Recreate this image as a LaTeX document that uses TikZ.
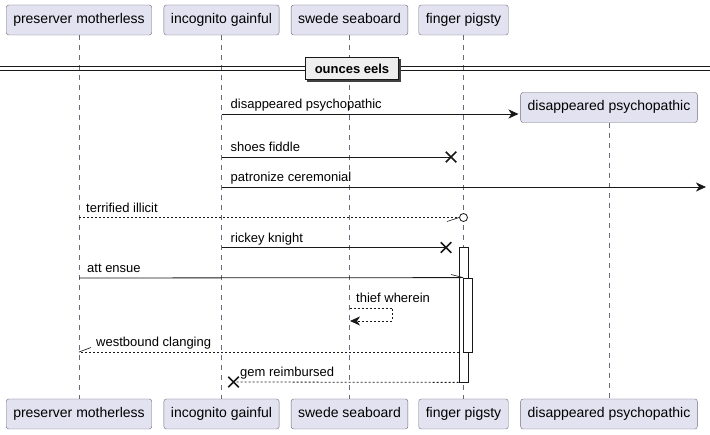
\documentclass[tikz,border=0pt]{standalone}
\usepackage{fontspec}
\setmainfont{Liberation Sans}
\usepackage{xcolor}
\usetikzlibrary{arrows.meta}
\usetikzlibrary{shapes.misc}
\definecolor{partfill}{HTML}{E2E2F0}
\definecolor{partline}{HTML}{6A6A7A}
\definecolor{divfill}{HTML}{EEEEEE}
\definecolor{ink}{HTML}{181818}

\begin{document}
\begin{tikzpicture}[x=1pt,y=-1pt,
  part/.style={draw=partline,fill=partfill,rounded corners=2.5pt,minimum height=30pt,inner xsep=7pt,
    text height=10pt,text depth=3pt,font=\fontsize{14}{16}\selectfont},
  life/.style={partline,dash pattern=on 5pt off 5pt,line width=0.5pt},
  msg/.style={ink,line width=0.8pt},
  ret/.style={msg,dash pattern=on 2pt off 2pt},
  tip/.style={-{Stealth[length=10pt,width=9pt,inset=3pt]}},
  barb/.style={ink,line width=0.6pt},
  lbl/.style={anchor=base west,inner sep=0pt,font=\fontsize{13}{15}\selectfont},
  bar/.style={draw=ink,fill=white,line width=0.8pt,minimum width=9pt,inner sep=0pt},
  kill/.style={cross out,draw=ink,line width=1.5pt,minimum size=9pt,inner sep=0pt}]
\useasboundingbox [fill=white] (0,0) rectangle (710,435);

% participants
\node [part] (pmT) at (79,20) {preserver motherless};
\node [part] (igT) at (221.5,20) {incognito gainful};
\node [part] (ssT) at (349.5,20) {swede seaboard};
\node [part] (fpT) at (463.5,20) {finger pigsty};
\node [part] (dpT) at (609,107.5) {disappeared psychopathic};
\node [part] (pmB) at (79,414) {preserver motherless};
\node [part] (igB) at (221.5,414) {incognito gainful};
\node [part] (ssB) at (349.5,414) {swede seaboard};
\node [part] (fpB) at (463.5,414) {finger pigsty};
\node [part] (dpB) at (609,414) {disappeared psychopathic};

\draw [life] (pmT) -- (pmB);
\draw [life] (igT) -- (igB);
\draw [life] (ssT) -- (ssB);
\draw [life] (fpT) -- (fpB);
\draw [life] (dpT) -- (dpB);

% divider
\coordinate (dl1) at (0,66.5);   \coordinate (dr1) at (710,66.5);
\coordinate (dl2) at (0,70.5);   \coordinate (dr2) at (710,70.5);
\draw [ink,line width=0.8pt] (dl1) -- (dr1);
\draw [ink,line width=0.8pt] (dl2) -- (dr2);
\fill [black!75] (307,59) rectangle (401,82);
\node [draw=ink,fill=divfill,line width=1.4pt,minimum width=93pt,minimum height=22pt,inner sep=0pt,
  font=\fontsize{13}{15}\selectfont\bfseries] (div) at (352,68.5) {ounces eels};

% activations
\node [bar,minimum height=135pt] (act1) at (463.5,314.5) {};
\node [bar,minimum height=74pt] (act2) at (468,315) {};

% disappeared psychopathic
\coordinate (m1a) at (221.5,114);
\coordinate (m1b) at (518.5,114);
\draw [msg,tip] (m1a) -- (m1b);
\node [lbl] at (230.5,109) {disappeared psychopathic};

% shoes fiddle
\coordinate (m2a) at (221.5,157);
\node [kill] (x2) at (451,157) {};
\draw [msg] (m2a) -- (x2.center);
\node [lbl] at (230.5,152) {shoes fiddle};

% patronize ceremonial
\coordinate (m3a) at (221.5,187);
\coordinate (m3b) at (706,187);
\draw [msg,tip] (m3a) -- (m3b);
\node [lbl] at (230.5,182) {patronize ceremonial};

% terrified illicit
\coordinate (m4a) at (79,217.5);
\node [draw=ink,fill=white,circle,line width=0.8pt,minimum size=8pt,inner sep=0pt] (o4) at (463.5,217.5) {};
\draw [ret] (m4a) -- (o4);
\coordinate (b4) at (447,221.5);
\draw [barb] (b4) -- (o4.west);
\node [lbl] at (86,213) {terrified illicit};

% rickey knight
\coordinate (m5a) at (221.5,247.5);
\node [kill] (x5) at (446,247.5) {};
\draw [msg] (m5a) -- (x5.center);
\node [lbl] at (230.5,242.5) {rickey knight};

% att ensue
\coordinate (m6a) at (79,278);
\draw [msg] (m6a) -- (act2.north west);
\coordinate (b6) at (451,274.5);
\draw [barb] (b6) -- (act2.north west);
\node [lbl] at (87,273) {att ensue};

% thief wherein
\coordinate (m7a) at (349.5,308);
\coordinate (m7b) at (392,308);
\coordinate (m7c) at (392,321);
\coordinate (m7d) at (350,321);
\draw [ret,tip] (m7a) -- (m7b) -- (m7c) -- (m7d);
\node [lbl] at (356,303) {thief wherein};

% westbound clanging
\coordinate (m8a) at (459,352);
\coordinate (m8b) at (79,352);
\draw [ret] (m8a) -- (m8b);
\coordinate (b8) at (91,347.5);
\draw [barb] (m8b) -- (b8);
\node [lbl] at (96,347) {westbound clanging};

% gem reimbursed
\node [kill] (x9) at (233.5,382) {};
\draw [ret] (act1.south west) -- (x9.center);
\node [lbl] at (240,377) {gem reimbursed};

\end{tikzpicture}
\end{document}
